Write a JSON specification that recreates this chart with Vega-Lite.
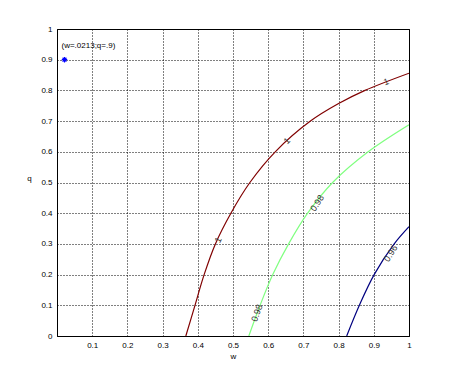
{
  "$schema": "https://vega.github.io/schema/vega-lite/v6.json",
  "width": 352,
  "height": 307,
  "autosize": "none",
  "padding": {"left": 57, "top": 29, "right": 44, "bottom": 48},
  "background": "white",
  "config": {
    "view": {"stroke": "black", "strokeWidth": 1},
    "font": "Liberation Sans",
    "axis": {
      "labelFont": "Liberation Sans", "labelFontSize": 8, "labelColor": "black",
      "titleFont": "Liberation Sans", "titleFontSize": 8, "titleFontWeight": "normal", "titleColor": "black",
      "grid": true, "gridColor": "black", "gridDash": [1, 2], "gridOpacity": 1, "gridWidth": 1,
      "domain": false, "ticks": false, "labelPadding": 5, "labelOverlap": false, "labelFlush": false
    }
  },
  "datasets": {
    "curves": [
      {"level": "1", "w": 0.366, "q": 0.0},
      {"level": "1", "w": 0.392, "q": 0.1},
      {"level": "1", "w": 0.418, "q": 0.2},
      {"level": "1", "w": 0.45, "q": 0.3},
      {"level": "1", "w": 0.494, "q": 0.4},
      {"level": "1", "w": 0.548, "q": 0.5},
      {"level": "1", "w": 0.62, "q": 0.6},
      {"level": "1", "w": 0.72, "q": 0.7},
      {"level": "1", "w": 0.8, "q": 0.757},
      {"level": "1", "w": 0.875, "q": 0.8},
      {"level": "1", "w": 1.0, "q": 0.856},
      {"level": "0.98", "w": 0.545, "q": 0.0},
      {"level": "0.98", "w": 0.577, "q": 0.1},
      {"level": "0.98", "w": 0.613, "q": 0.2},
      {"level": "0.98", "w": 0.658, "q": 0.3},
      {"level": "0.98", "w": 0.712, "q": 0.4},
      {"level": "0.98", "w": 0.783, "q": 0.5},
      {"level": "0.98", "w": 0.884, "q": 0.6},
      {"level": "0.98", "w": 1.0, "q": 0.688},
      {"level": "0.96", "w": 0.823, "q": 0.0},
      {"level": "0.96", "w": 0.859, "q": 0.1},
      {"level": "0.96", "w": 0.901, "q": 0.2},
      {"level": "0.96", "w": 0.958, "q": 0.3},
      {"level": "0.96", "w": 1.0, "q": 0.356}
    ],
    "labels": [
      {"text": "1", "w": 0.458, "q": 0.313, "angle": -64},
      {"text": "1", "w": 0.653, "q": 0.636, "angle": -45},
      {"text": "1", "w": 0.935, "q": 0.828, "angle": -22},
      {"text": "0.98", "w": 0.739, "q": 0.433, "angle": -58},
      {"text": "0.98", "w": 0.568, "q": 0.075, "angle": -70},
      {"text": "0.96", "w": 0.948, "q": 0.269, "angle": -58}
    ],
    "star": [{"w": 0.0213, "q": 0.9, "note": "(w=.0213;q=.9)", "tq": 0.945}]
  },
  "layer": [
    {
      "data": {"name": "curves"},
      "mark": {"type": "line", "interpolate": "catmull-rom", "strokeWidth": 1.2, "clip": true},
      "encoding": {
        "x": {"field": "w", "type": "quantitative", "scale": {"domain": [0, 1], "nice": false},
              "axis": {"tickCount": 10, "format": "~g", "labelExpr": "datum.value == 0 ? '' : datum.label", "title": "w", "titlePadding": 3}},
        "y": {"field": "q", "type": "quantitative", "scale": {"domain": [0, 1], "nice": false},
              "axis": {"tickCount": 10, "format": "~g", "title": "q", "titleAngle": 0, "titlePadding": 12}},
        "color": {"field": "level", "type": "nominal",
                  "scale": {"domain": ["1", "0.98", "0.96"], "range": ["#800000", "#80ff80", "#000080"]},
                  "legend": null}
      }
    },
    {
      "data": {"name": "labels"},
      "mark": {"type": "text", "fontSize": 9, "color": "#333333"},
      "encoding": {
        "x": {"field": "w", "type": "quantitative"},
        "y": {"field": "q", "type": "quantitative"},
        "text": {"field": "text"},
        "angle": {"field": "angle", "type": "quantitative", "scale": null}
      }
    },
    {
      "data": {"name": "star"},
      "mark": {"type": "point", "shape": "M-1,0L1,0M0,-1L0,1M-0.7,-0.7L0.7,0.7M-0.7,0.7L0.7,-0.7", "size": 30, "color": "blue", "filled": false, "strokeWidth": 1.2, "opacity": 1},
      "encoding": {
        "x": {"field": "w", "type": "quantitative"},
        "y": {"field": "q", "type": "quantitative"}
      }
    },
    {
      "data": {"name": "star"},
      "mark": {"type": "text", "fontSize": 8, "align": "left", "dx": -3, "color": "black"},
      "encoding": {
        "x": {"field": "w", "type": "quantitative"},
        "y": {"field": "tq", "type": "quantitative"},
        "text": {"field": "note"}
      }
    }
  ]
}
